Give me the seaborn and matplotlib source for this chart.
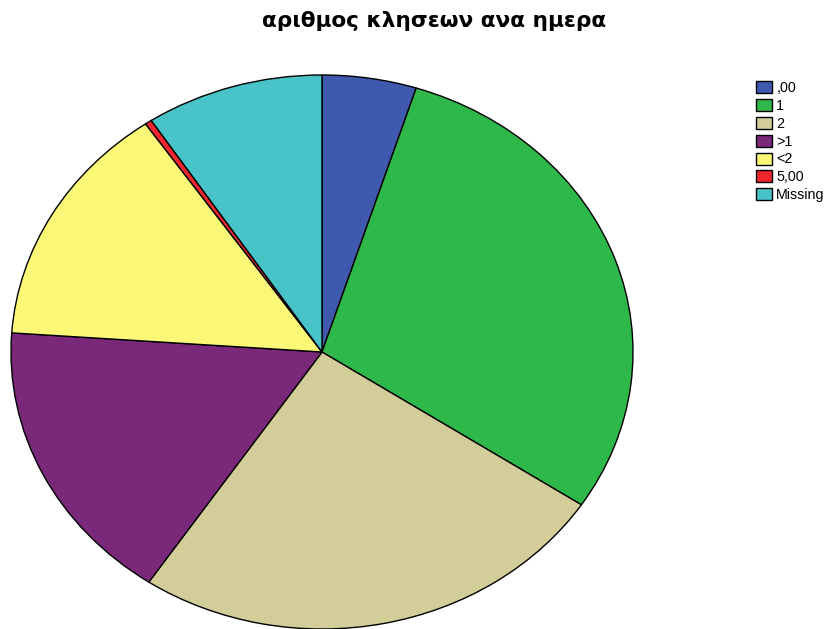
import matplotlib
matplotlib.use("Agg")
import matplotlib.pyplot as plt
import seaborn as sns

sns.set_theme(style="white")
plt.rcParams["font.family"] = ["Liberation Sans", "DejaVu Sans"]
plt.rcParams["text.color"] = "black"

# Share of calls per day category (percent)
categories = [",00", "1", "2", ">1", "<2", "5,00", "Missing"]
shares = [4.9, 29.4, 25.1, 16.7, 14.3, 0.35, 9.25]
colors = ["#3e59ad", "#2fb84a", "#d3ce99", "#7a2879", "#fbf877", "#f0262e", "#48c3c8"]
title = "αριθμος κλησεων ανα ημερα"

W, H = 838, 629
fig = plt.figure(figsize=(W / 100, H / 100), dpi=100)
fig.patch.set_facecolor("white")

# Elliptical pie: axes spans the ellipse bounding box in pixels
x0, x1 = 11, 633
y0, y1 = 75, 629
ax = fig.add_axes([x0 / W, 1 - y1 / H, (x1 - x0) / W, (y1 - y0) / H])
wedges, _ = ax.pie(
    shares,
    colors=sns.color_palette(colors),
    startangle=90,
    counterclock=False,
    radius=1,
    wedgeprops=dict(edgecolor="black", linewidth=1.0),
)
ax.set_aspect("auto")
ax.set_xlim(-1.0, 1.0)
ax.set_ylim(-1.0, 1.0)
ax.axis("off")
for w in wedges:
    w.set_clip_on(False)

fig.text(434 / W, 1 - 21 / H, title, ha="center", va="center",
         fontsize=15.6, fontweight="bold", color="black",
         family=["DejaVu Sans"])

leg = fig.legend(
    wedges, categories,
    loc="upper left",
    bbox_to_anchor=(746 / W, 1 - 71 / H),
    frameon=False,
    fontsize=10.3,
    handlelength=1.12,
    handleheight=0.92,
    handletextpad=0.3,
    labelspacing=0.27,
    borderpad=0.2,
    labelcolor="black",
)

fig.savefig("out.png", dpi=100, facecolor="white")
